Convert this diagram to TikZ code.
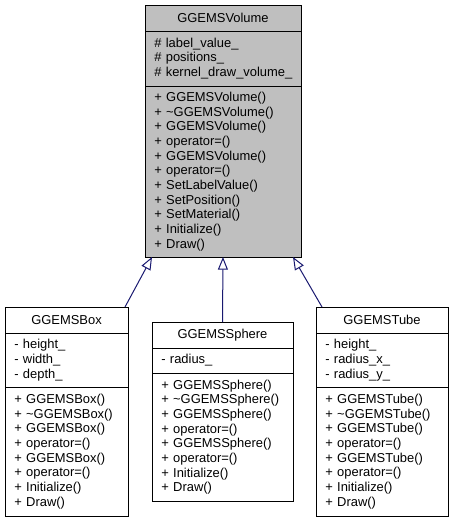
\documentclass[tikz,border=0pt]{standalone}
\usepackage{fontspec}
\setmainfont{Liberation Sans}
\usepackage{tikz}
\usetikzlibrary{arrows.meta,positioning}
\definecolor{umlgrey}{RGB}{191,191,191}
\definecolor{umlblue}{RGB}{25,25,112}

\begin{document}
\begin{tikzpicture}[x=0.75pt,y=-0.75pt,
  font=\fontsize{9.7}{11}\selectfont,
  title/.style={draw,line width=0.75pt,outer sep=0pt,inner sep=0pt,minimum height=19.5pt,anchor=north},
  part/.style={draw,line width=0.75pt,outer sep=0pt,align=left,inner xsep=7pt,inner ysep=0pt,
    execute at begin node={\hyphenpenalty=10000\hbadness=10000\hfuzz=20pt}},
  inherit/.style={draw=umlblue,line width=0.75pt,-{Triangle[open,length=9.5pt,width=7.5pt]}}]
\useasboundingbox (0,0) rectangle (449,521);

% base class
\node[title,fill=umlgrey,minimum width=117pt] (volTitle) at (223,5) {GGEMSVolume};
\node[part,fill=umlgrey,text width=103pt,minimum height=41.25pt,below=0pt of volTitle] (volAttr)
  {\# label\_value\_\\\# positions\_\\\mbox{\# kernel\_draw\_volume\_}};
\node[part,fill=umlgrey,text width=103pt,minimum height=128.25pt,below=0pt of volAttr] (volMeth)
  {+ GGEMSVolume()\\+ \textasciitilde GGEMSVolume()\\+ GGEMSVolume()\\+ operator=()\\+ GGEMSVolume()\\+ operator=()\\+ SetLabelValue()\\+ SetPosition()\\+ SetMaterial()\\+ Initialize()\\+ Draw()};

% GGEMSBox
\node[title,minimum width=92.25pt] (boxTitle) at (66.5,307) {GGEMSBox};
\node[part,text width=78.25pt,minimum height=40.5pt,below=0pt of boxTitle] (boxAttr)
  {- height\_\\- width\_\\- depth\_};
\node[part,text width=78.25pt,minimum height=96.75pt,below=0pt of boxAttr] (boxMeth)
  {+ GGEMSBox()\\+ \textasciitilde GGEMSBox()\\+ GGEMSBox()\\+ operator=()\\+ GGEMSBox()\\+ operator=()\\+ Initialize()\\+ Draw()};

% GGEMSSphere
\node[title,minimum width=105.75pt] (sphTitle) at (222.5,322) {GGEMSSphere};
\node[part,text width=91.75pt,minimum height=18.75pt,below=0pt of sphTitle] (sphAttr)
  {- radius\_};
\node[part,text width=91.75pt,minimum height=96pt,below=0pt of sphAttr] (sphMeth)
  {+ GGEMSSphere()\\+ \textasciitilde GGEMSSphere()\\+ GGEMSSphere()\\+ operator=()\\+ GGEMSSphere()\\+ operator=()\\+ Initialize()\\+ Draw()};

% GGEMSTube
\node[title,minimum width=99pt] (tubTitle) at (382,307) {GGEMSTube};
\node[part,text width=85pt,minimum height=40.5pt,below=0pt of tubTitle] (tubAttr)
  {- height\_\\- radius\_x\_\\- radius\_y\_};
\node[part,text width=85pt,minimum height=96.75pt,below=0pt of tubAttr] (tubMeth)
  {+ GGEMSTube()\\+ \textasciitilde GGEMSTube()\\+ GGEMSTube()\\+ operator=()\\+ GGEMSTube()\\+ operator=()\\+ Initialize()\\+ Draw()};

% inheritance
\draw[inherit] ([xshift=-2.25pt]boxTitle.north east) -- ([xshift=5.25pt]volMeth.south west);
\draw[inherit] (sphTitle.north) -- (volMeth.south);
\draw[inherit] ([xshift=4.5pt]tubTitle.north west) -- ([xshift=-6pt]volMeth.south east);
\end{tikzpicture}
\end{document}
